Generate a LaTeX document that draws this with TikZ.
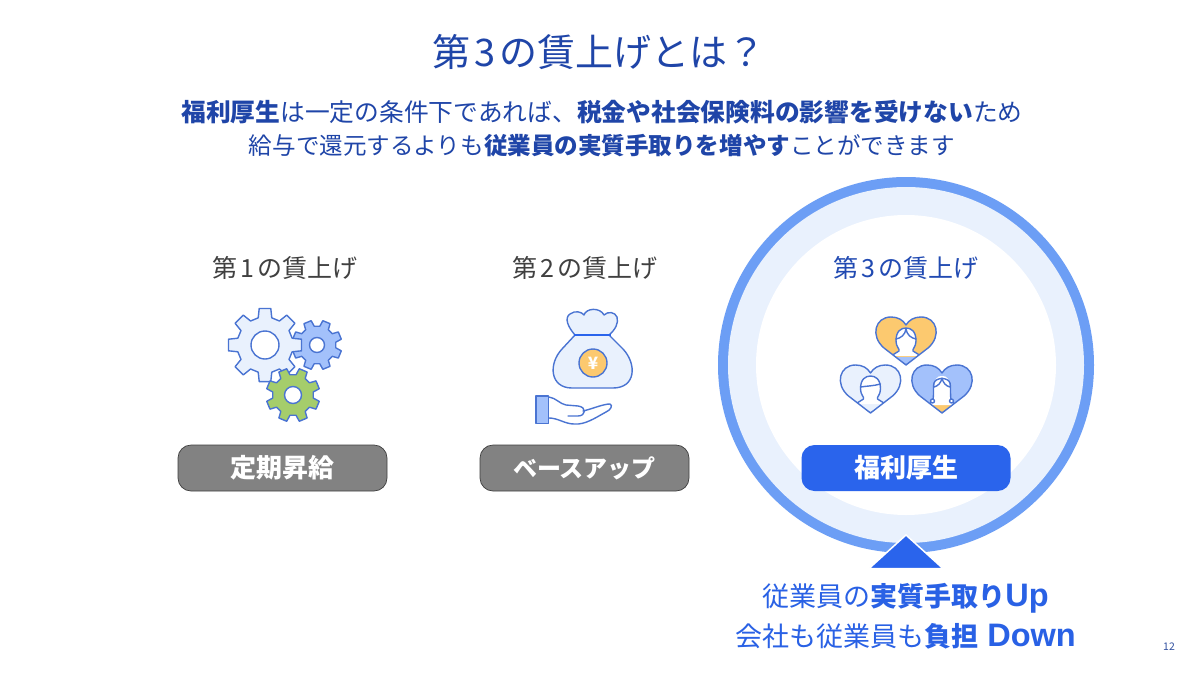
\documentclass[tikz,border=0pt]{standalone}
\usepackage{fontspec}
\setmainfont{Noto Sans CJK JP}
\newfontfamily\latinbold[BoldFont={Liberation Sans Bold}]{Liberation Sans}
\definecolor{navy}{HTML}{1F45A8}
\definecolor{ink}{HTML}{4A74D2}
\definecolor{pale}{HTML}{E9F1FD}
\definecolor{mid}{HTML}{A3C1FB}
\definecolor{ring}{HTML}{6C9EF5}
\definecolor{royal}{HTML}{2A64EC}
\definecolor{leaf}{HTML}{A5CD6B}
\definecolor{sun}{HTML}{FCC96F}
\definecolor{greytext}{HTML}{404040}
\newcommand{\fs}[1]{\fontsize{#1}{#1}\selectfont}
\newcommand{\latin}[1]{{\latinbold\bfseries\fs{32.5}#1}}
\tikzset{
  icon/.style={draw=ink,line width=1.4pt,line join=round,line cap=round},
  head/.style={font=\fs{38},text=navy,inner sep=0pt},
  lead/.style={font=\fs{24.75},text=navy,inner sep=0pt},
  leadb/.style={font=\fs{23.55},text=navy,inner sep=0pt},
  kicker/.style={font=\fs{25},inner sep=0pt},
  pill/.style={rounded corners=13pt,minimum width=209pt,minimum height=46pt,inner sep=0pt,font=\bfseries\fs{26},text=white},
  result/.style={font=\fs{27},text=royal!90!navy,inner sep=0pt},
}
% gear: cx cy outer root hole rot fill
\newcommand{\mygear}[7]{%
  \begin{scope}[shift={(#1,#2)}]
    \draw[icon,fill=#7]
      ({#6-14}:#4)
      \foreach \i in {0,...,7}{
        -- ({#6+\i*45-14}:#4) -- ({#6+\i*45-9}:#3) -- ({#6+\i*45+9}:#3) -- ({#6+\i*45+14}:#4)
      } -- cycle;
    \draw[icon,fill=white] (0,0) circle (#5);
  \end{scope}}
\newcommand{\heartpath}{(0,48) -- (-22,31) .. controls (-36,19) and (-31,0) .. (-15,0) .. controls (-8,0) and (-3,3) .. (0,8) .. controls (3,3) and (8,0) .. (15,0) .. controls (31,0) and (36,19) .. (22,31) -- cycle}
% heart: kind cx top fill shirt
\newcommand{\myheart}[5][0]{%
  \begin{scope}[shift={(#2,#3)}]
    \fill[#4] \heartpath;
    \begin{scope}
      \clip \heartpath;
      \fill[#5] (-13,39.5) -- (13,39.5) -- (13,50) -- (-13,50) -- cycle;
      \ifnum#1=1
        \fill[white] (-8,30) .. controls (-8,12) and (-5,11) .. (0,11) .. controls (5,11) and (8,12) .. (8,30) -- (9,35) -- (13,40) -- (-13,40) -- (-9,35) -- cycle;
        \draw[icon] (-13,40) -- (-9,35) .. controls (-8,30) and (-9,20) .. (-8,18) .. controls (-6,12) and (6,12) .. (8,18) .. controls (9,20) and (8,30) .. (9,35) -- (13,40);
      \else
        \fill[white] (-10,24) .. controls (-10,14) and (-5,11) .. (0,11) .. controls (5,11) and (10,14) .. (10,24) .. controls (10,30) and (6,32) .. (7,34) -- (15,39) -- (-15,39) -- (-7,34) .. controls (-6,32) and (-10,30) .. (-10,24) -- cycle;
        \draw[icon] (-15,39) -- (-7,34) .. controls (-6,32) and (-10,30) .. (-10,24) .. controls (-10,14) and (-5,11) .. (0,11) .. controls (5,11) and (10,14) .. (10,24) .. controls (10,30) and (6,32) .. (7,34) -- (15,39);
      \fi
      \draw[icon] (-15,39) -- (0,48) -- (15,39);
    \end{scope}
    \draw[icon] \heartpath;
    \ifnum#1=0
      \draw[icon] (-10,22) .. controls (-5,21) and (-1,18) .. (0,12) .. controls (1,18) and (5,21) .. (10,22);
    \fi
    \ifnum#1=1
      \draw[icon] (-8,22) .. controls (-4,21) and (-1,18) .. (0,13) .. controls (1,18) and (4,21) .. (8,22);
      \draw[icon,fill=white] (-9.5,36) circle (2);
      \draw[icon,fill=white] (9.5,36) circle (2);
    \fi
    \ifnum#1=2
      \draw[icon] (-10,22) .. controls (-4,21) and (3,21) .. (10,19);
    \fi
  \end{scope}}
\begin{document}
\begin{tikzpicture}[x=1pt,y=-1pt]
\useasboundingbox (0,0) rectangle (1200,675);
\fill[white] (0,0) rectangle (1200,675);

\node[head] (title) at (599,52) {第\hspace{4pt}3\hspace{4pt}の賃上げとは？};
\node[lead] (lead1) at (602,112.5) {\textbf{福利厚生}は一定の条件下であれば、\textbf{税金や社会保険料の影響を受けない}ため};
\node[leadb] (lead2) at (602,146) {給与で還元するよりも\textbf{従業員の実質手取りを増やす}ことができます};

% highlight ring
\fill[ring] (906,365) circle (188);
\fill[pale] (906,365) circle (178);
\fill[white] (906,365) circle (150);

\node[kicker,text=greytext] (k1) at (285,268) {第\hspace{3pt}1\hspace{3pt}の賃上げ};
\node[kicker,text=greytext] (k2) at (585,268) {第\hspace{3pt}2\hspace{3pt}の賃上げ};
\node[kicker,text=navy!85!royal] (k3) at (906,268) {第\hspace{3pt}3\hspace{3pt}の賃上げ};

% gears
\mygear{317}{345}{25}{19}{7.5}{22.5}{mid}
\mygear{265}{345}{37}{28}{14}{0}{pale}
\mygear{293}{395}{27}{20.5}{8.5}{22.5}{leaf}

% money bag
\draw[icon,fill=pale] (575,335) .. controls (568,327) and (564,318) .. (570,314) .. controls (575,310) and (582,312) .. (584,315) .. controls (586,308) and (600,307) .. (604,315) .. controls (608,311) and (615,312) .. (617,317) .. controls (619,323) and (615,330) .. (609,335) -- cycle;
\draw[icon,fill=pale] (575,335) -- (562,349) .. controls (548,364) and (550,388) .. (572,388) -- (613,388) .. controls (636,388) and (637,364) .. (623,349) -- (609,335) -- cycle;
\draw[draw=royal,line width=1.6pt] (574,335) -- (611,335);
\draw[icon,fill=sun] (593,363) circle (14);
\node[font=\bfseries\fs{17},text=white,inner sep=0pt] (yen) at (593,363) {¥};
% hand
\draw[icon] (549,397) .. controls (556,398) and (560,404) .. (566,405) -- (578,406) .. controls (587,407) and (586,416) .. (578,416) -- (568,416);
\draw[icon] (583,411) .. controls (592,409) and (603,404) .. (610,404) .. controls (613,405) and (611,410) .. (606,412) .. controls (595,418) and (585,425) .. (574,424) .. controls (565,424) and (558,418) .. (549,418);
\draw[icon,fill=mid] (536,396) rectangle (548.5,423.5);

% hearts
\myheart{906}{317}{sun}{mid}
\myheart[2]{870.5}{365}{pale}{pale}
\myheart[1]{942}{365}{mid}{sun}

% pills
\node[pill,fill=gray!98,draw=greytext,line width=0.7pt] (p1) at (282.5,468) {定期昇給};
\node[pill,fill=gray!98,draw=greytext,line width=0.7pt,font=\bfseries\fs{24}] (p2) at (584.5,468) {ベースアップ};
\node[pill,fill=royal] (p3) at (906,468) {福利厚生};

% triangle
\fill[royal,draw=white,line width=1.5pt,line join=miter] (906,535) -- (943,568.5) -- (869,568.5) -- cycle;
\fill[white] (860,569.2) rectangle (952,575);

\node[result] (r1) at (905.5,598) {従業員の\textbf{実質手取り}\latin{Up}};
\node[result] (r2) at (905.5,636.5) {会社も従業員も\textbf{負担}\latin{ Down}};
\node[font=\fs{10.5},text=navy!80!gray,inner sep=0pt] (pg) at (1169,647) {12};
\end{tikzpicture}
\end{document}
